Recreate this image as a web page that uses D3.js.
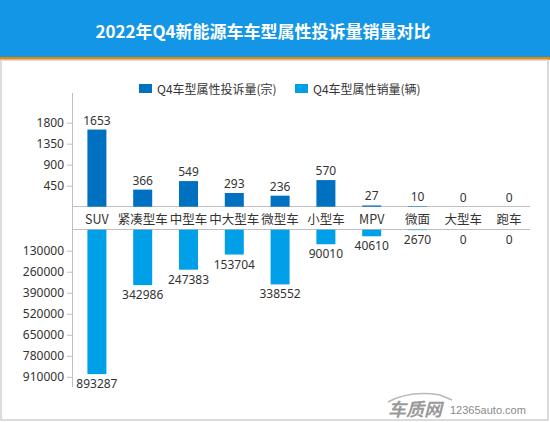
<!DOCTYPE html>
<html><head><meta charset="utf-8">
<script src="https://cdn.jsdelivr.net/npm/d3@7/dist/d3.min.js"></script>
<style>
html,body{margin:0;padding:0;background:#fff;}
svg{display:block;font-family:"Noto Sans CJK SC","Noto Sans",sans-serif;}
</style></head><body>
<svg id="c" width="550" height="422"></svg>
<script>
const title = "2022年Q4新能源车车型属性投诉量销量对比";
const categories = ["SUV","紧凑型车","中型车","中大型车","微型车","小型车","MPV","微面","大型车","跑车"];
const complaints = [1653,366,549,293,236,570,27,10,0,0];
const sales = [893287,342986,247383,153704,338552,90010,40610,2670,0,0];
const complaintTicks = [450,900,1350,1800];
const salesTicks = [130000,260000,390000,520000,650000,780000,910000];
const legendNames = ["Q4车型属性投诉量(宗)","Q4车型属性销量(辆)"];
const colors = ["#0070c0","#00a0e9"];

const svg = d3.select("#c");
// header
svg.append("rect").attr("x",0).attr("y",0).attr("width",550).attr("height",58).attr("fill","#1496e6");
svg.append("rect").attr("x",0).attr("y",57).attr("width",550).attr("height",3).attr("fill","#f08300");
svg.append("text").attr("x",263).attr("y",30).attr("text-anchor","middle").attr("dominant-baseline","central")
  .attr("fill","#fff").attr("font-size",17).attr("font-weight","bold").text(title);
// panel border
svg.append("rect").attr("x",1).attr("y",60).attr("width",547).attr("height",360)
  .attr("fill","none").attr("stroke","#cfcfcf").attr("stroke-width",1.5);

const x = d3.scaleBand().domain(categories).range([74,532]);
const bw = x.bandwidth()*0.415;
const yTop = d3.scaleLinear().domain([0,2436]).range([206.7,93]);
const yBot = d3.scaleLinear().domain([0,973000]).range([229.7,387]);

// axes
const axL = svg.append("g").attr("transform","translate(72,0)");
axL.append("g").call(d3.axisLeft(yTop).tickValues(complaintTicks).tickSize(5).tickFormat(d3.format("d")));
axL.append("g").call(d3.axisLeft(yBot).tickValues(salesTicks).tickSize(5).tickFormat(d3.format("d")));
axL.selectAll(".domain").remove();
axL.selectAll("line").attr("stroke","#bfbfbf");
axL.selectAll("text").attr("fill","#333").attr("font-size",12).attr("font-family","'Noto Sans',sans-serif").attr("x",-8);
svg.append("line").attr("x1",72.5).attr("x2",72.5).attr("y1",93).attr("y2",387).attr("stroke","#bfbfbf");
svg.append("line").attr("x1",72).attr("x2",530).attr("y1",206.5).attr("y2",206.5).attr("stroke","#bfbfbf");
svg.append("line").attr("x1",72).attr("x2",530).attr("y1",229.5).attr("y2",229.5).attr("stroke","#bfbfbf");

// category labels
svg.append("g").selectAll("text").data(categories).join("text")
  .attr("x",d=>x(d)+x.bandwidth()/2).attr("y",218).attr("text-anchor","middle").attr("dominant-baseline","central")
  .attr("fill","#333").attr("font-size",12.5).text(d=>d);

// top bars
svg.append("g").selectAll("rect").data(complaints).join("rect")
  .attr("x",(d,i)=>x(categories[i])+x.bandwidth()/2-bw/2).attr("width",bw)
  .attr("y",d=>yTop(d)).attr("height",d=>yTop(0)-yTop(d)).attr("fill",colors[0]);
svg.append("g").selectAll("text").data(complaints).join("text")
  .attr("x",(d,i)=>x(categories[i])+x.bandwidth()/2).attr("y",d=>yTop(d)-5)
  .attr("text-anchor","middle").attr("fill","#333").attr("font-size",12).attr("font-family","'Noto Sans',sans-serif").text(d=>d);

// bottom bars
svg.append("g").selectAll("rect").data(sales).join("rect")
  .attr("x",(d,i)=>x(categories[i])+x.bandwidth()/2-bw/2).attr("width",bw)
  .attr("y",yBot(0)).attr("height",d=>yBot(d)-yBot(0)).attr("fill",colors[1]);
svg.append("g").selectAll("text").data(sales).join("text")
  .attr("x",(d,i)=>x(categories[i])+x.bandwidth()/2).attr("y",d=>yBot(d)+14)
  .attr("text-anchor","middle").attr("fill","#333").attr("font-size",12).attr("font-family","'Noto Sans',sans-serif").text(d=>d);

// legend
const lg = [{x:139,c:colors[0],t:legendNames[0]},{x:295,c:colors[1],t:legendNames[1]}];
lg.forEach(l=>{
  svg.append("rect").attr("x",l.x).attr("y",84).attr("width",13).attr("height",9).attr("fill",l.c);
  svg.append("text").attr("x",l.x+18).attr("y",88.5).attr("dominant-baseline","central")
    .attr("fill","#333").attr("font-size",12).text(l.t);
});

// watermark logo
svg.append("path").attr("d","M388,402 Q410,390 440,395 L452,400").attr("fill","none").attr("stroke","#b8b8b8").attr("stroke-width",1.5);
svg.append("text").attr("x",388).attr("y",416).attr("fill","#9a9a9a").attr("font-size",18).attr("font-weight","bold")
  .attr("font-style","italic").text("车质网");
svg.append("text").attr("x",450).attr("y",414).attr("fill","#8a8a8a").attr("font-size",11).attr("font-family","Arial,'Liberation Sans',sans-serif").text("12365auto.com");
</script>
</body></html>
